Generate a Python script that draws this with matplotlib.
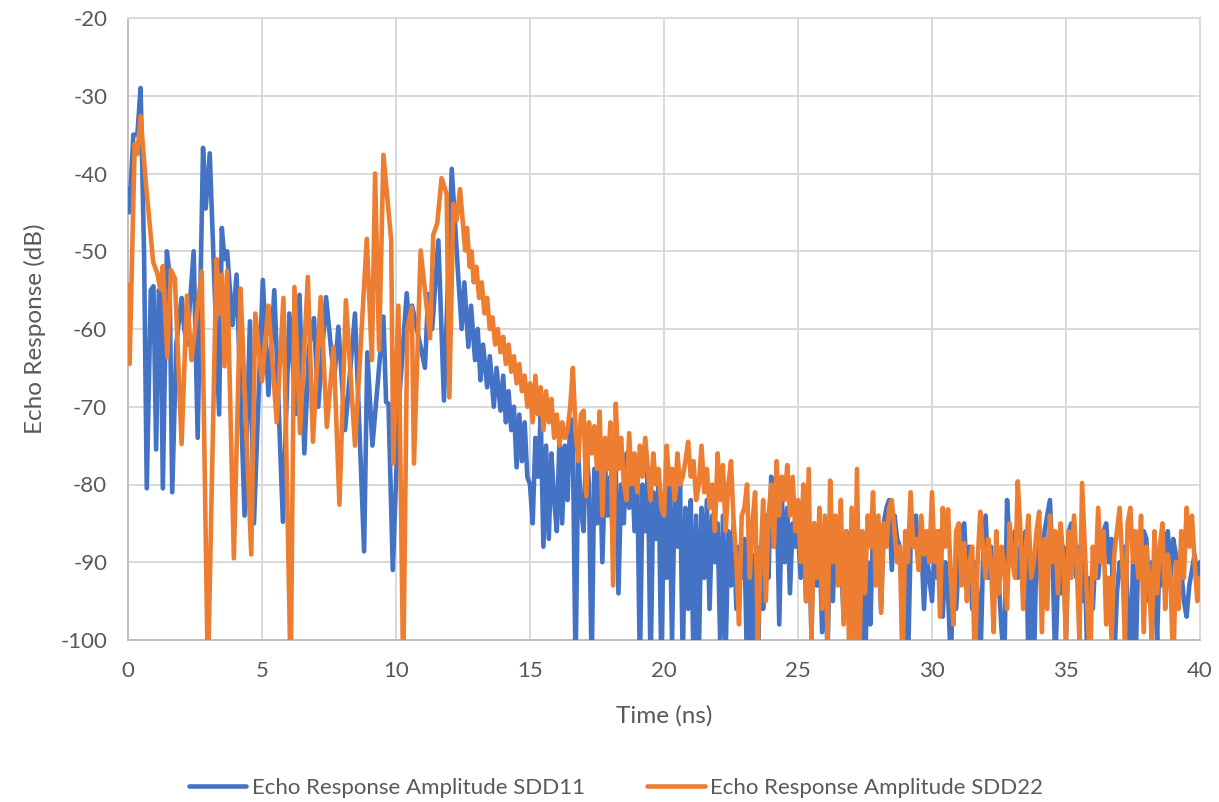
import numpy as np
import matplotlib
matplotlib.use("Agg")
import matplotlib.pyplot as plt

# ---------------- data ----------------
# SDD11, 0-15 ns: key points (time ns, dB)
t_sdd11_head = [0, 0.05, 0.2, 0.35, 0.47, 0.6, 0.7, 0.85, 0.95, 1.05, 1.15, 1.22, 1.3, 1.45, 1.55,
                1.65, 1.8, 2.0, 2.1, 2.2, 2.45, 2.6, 2.8, 2.9, 3.05, 3.4, 3.5, 3.6, 3.7, 3.9, 4.05,
                4.35, 4.55, 4.7, 5.03, 5.24, 5.46, 5.78, 6.02, 6.27, 6.4, 6.58, 6.75, 6.94, 7.1,
                7.39, 7.69, 7.85, 8.1, 8.47, 8.81, 8.93, 9.12, 9.53, 9.63, 9.72, 9.88, 10.1, 10.4,
                10.5, 10.6, 11.08, 11.2, 11.35, 11.58, 11.79, 12.08, 12.3, 12.45, 12.55, 12.7, 12.8,
                12.95, 13.05, 13.15, 13.25, 13.4, 13.5, 13.65, 13.75, 13.9, 14.0, 14.1, 14.2, 14.3,
                14.4, 14.5, 14.6, 14.7, 14.8, 14.9]
v_sdd11_head = [-42, -45, -35, -35, -29, -50.5, -80.5, -55, -54.5, -75.5, -55, -56, -80.5, -50, -53,
                -81, -62, -56, -60, -62, -50, -74, -36.7, -44.5, -37.4, -71, -47, -51, -50, -59.5, -53,
                -84, -59, -85, -53.7, -68.5, -55, -84.8, -58, -70.9, -55.6, -76, -62.5, -58.6, -70,
                -55.9, -66.6, -59.7, -73, -58, -88.6, -63, -75, -58.4, -69.4, -69.6, -91, -70, -55.4,
                -60, -57, -65, -55.5, -60, -48.6, -69.2, -39.4, -52, -60, -54, -62.3, -57,
                -64, -60, -66.6, -62, -67.5, -63.5, -70, -65, -70.5, -66, -72, -68, -73,
                -70, -77.8, -71, -77, -72, -79]

# SDD22, 0-15 ns: key points (time ns, dB)
t_sdd22_head = [0, 0.06, 0.25, 0.35, 0.47, 0.66, 0.94, 1.1, 1.2, 1.3, 1.47, 1.6, 1.75, 2.0, 2.2,
                2.37, 2.75, 2.98, 3.3, 3.42, 3.5, 3.6, 3.7, 3.95, 4.2, 4.6, 4.75, 5.0, 5.24, 5.55,
                5.8, 6.07, 6.21, 6.42, 6.71, 6.9, 7.19, 7.42, 7.67, 7.89, 8.13, 8.47, 8.91, 9.1,
                9.22, 9.37, 9.53, 9.82, 9.9, 10.09, 10.27, 10.42, 10.59, 10.67, 10.92, 11.27, 11.39,
                11.54, 11.7, 11.89, 11.99, 12.14, 12.26, 12.39, 12.5, 12.58, 12.65, 12.75, 12.82,
                12.9, 13.0, 13.1, 13.2, 13.3, 13.4, 13.5, 13.6, 13.7, 13.8, 13.9, 14.0, 14.1, 14.2,
                14.3, 14.4, 14.5, 14.6, 14.7, 14.8, 14.9]
v_sdd22_head = [-54.3, -64.5, -36.2, -37.5, -32.6, -41, -51.4, -52.9, -54.8, -51.9, -63.6, -52.4,
                -53.5, -74.8, -55.7, -64, -52.6, -105, -51, -58, -53, -64.8, -52.5, -89.5, -54.8,
                -89, -58, -66.7, -57, -72, -56, -105, -54.6, -73.4, -53.3, -74.5, -55.9, -72.6,
                -62.3, -82.6, -56.3, -75, -48.4, -64, -40, -62.7, -37.6, -48.6, -77.3, -57, -105,
                -60, -57.2, -77.3, -49.9, -61.2, -47.9, -46.4, -40.6, -42.6, -68.8, -43.9, -46, -42,
                -46.5, -49.9, -47, -52, -50, -54, -52, -56, -54, -58, -56, -60, -58.5, -62, -60, -63,
                -61, -64.5, -62, -65.5, -63.5, -67, -64.5, -68, -66, -70]

# 15-40 ns tails, one value every 0.1 ns
tail_start, tail_step = 15.0, 0.1
v_sdd11_tail = [
    -80, -85, -74, -79, -71, -88, -75, -87, -76, -82,
    -86, -74, -85, -75, -82, -71.5, -75, -104, -76, -83,
    -86, -75, -80, -104, -78, -85, -76, -90, -78, -84,
    -79, -88, -78, -94, -80, -85, -76, -83, -77, -86,
    -78, -104, -80, -86, -78, -104, -81, -87, -79, -104,
    -82, -92, -80, -100, -81, -88, -80, -103, -83, -96,
    -82, -103, -84, -102, -83, -92, -82, -96, -84, -90,
    -85, -101, -84, -102, -86, -93, -85, -96, -88, -92,
    -87, -104, -86, -101, -89, -104, -88, -96, -84, -92,
    -79, -88, -80, -98, -82, -90, -83, -94, -85, -88,
    -86, -92, -84, -95, -86, -99, -85, -93, -87, -99,
    -88, -102, -87, -95, -86, -92, -89, -97, -86, -93,
    -88, -102, -85, -96, -87, -104, -90, -98, -86, -92,
    -87, -96, -85, -83, -82, -91, -84, -87, -88, -95,
    -90, -104, -88, -85, -84, -90, -87, -96, -89, -92,
    -95, -88, -92, -86, -97, -90, -94, -103, -91, -96,
    -90, -86, -85, -92, -88, -96, -90, -94, -104, -90,
    -84, -92, -88, -95, -90, -93, -99, -103, -82, -88,
    -90, -86, -92, -88, -91, -86, -103, -91, -104, -88,
    -90, -94, -86, -84, -82, -90, -103, -92, -94, -88,
    -100, -86, -85, -90, -92, -88, -95, -90, -103, -92,
    -96, -89, -92, -88, -86, -85, -90, -87, -103, -94,
    -90, -92, -88, -95, -104, -90, -103, -88, -92, -86,
    -87, -95, -90, -92, -100, -88, -93, -90, -86, -92,
    -87, -89, -92, -91, -95, -97, -93, -91, -89, -92,
    -90]
v_sdd22_tail = [
    -67, -72, -66, -71, -67.5, -73, -68, -72, -69, -74,
    -71, -75, -72, -74, -73, -70, -65, -73, -77, -71,
    -70.5, -81.5, -72, -76, -72.5, -78, -70.6, -84, -74, -78,
    -72, -93, -69.6, -78, -74, -80, -82, -73.4, -80, -76,
    -81, -75, -79, -74, -78, -82, -76, -80, -78, -83,
    -84, -75, -80, -78, -82, -76, -80, -79, -77, -74.5,
    -79, -77, -82, -80, -75, -81, -78, -83, -80, -86,
    -76, -82, -77.5, -86, -80, -77, -85, -90, -98, -84,
    -83, -80, -92, -85, -81, -100, -90, -82, -95, -84,
    -80, -88, -77, -84, -79, -82, -77.5, -84, -79, -86,
    -82, -90, -80, -95, -78, -100, -85, -92, -83, -96,
    -84, -100, -79.5, -90, -84, -93, -82, -98, -86, -100,
    -83, -104, -78, -100, -86, -94, -84, -88, -81, -93,
    -84, -96.5, -85, -88, -83, -82, -86, -90, -88, -104,
    -86, -90, -81, -88, -87, -91, -84, -89, -86, -90,
    -81, -90, -86, -97, -83, -88, -83.2, -92, -98, -86,
    -85, -93, -87.5, -95, -90, -88, -104, -90, -83.5, -88,
    -92, -87, -90, -99, -86, -94, -88, -91, -96, -85,
    -90, -92, -79.6, -86, -96, -88, -84, -92, -90, -86,
    -83.5, -99, -87, -96, -84, -90, -86, -94, -85, -90,
    -100, -86, -92, -84, -90, -100, -79.8, -88, -96, -104,
    -88, -92, -83, -90, -86, -98, -92, -100, -89, -86,
    -83, -90, -100, -85, -83, -90, -86, -92, -84, -99,
    -88, -92, -100, -86, -94, -88, -85, -96, -89, -92,
    -104, -90, -96, -86, -92, -83, -88, -84, -90, -95,
    -92]

x_ticks = [0, 5, 10, 15, 20, 25, 30, 35, 40]
y_ticks = [-100, -90, -80, -70, -60, -50, -40, -30, -20]
series_names = ["Echo Response Amplitude SDD11", "Echo Response Amplitude SDD22"]
x_label = "Time (ns)"
y_label = "Echo Response (dB)"

# ---------------- build series ----------------
def tail_times(values):
    return list(np.round(tail_start + tail_step * np.arange(len(values)), 3))

t11 = t_sdd11_head + tail_times(v_sdd11_tail)
v11 = v_sdd11_head + v_sdd11_tail
t22 = t_sdd22_head + tail_times(v_sdd22_tail)
v22 = v_sdd22_head + v_sdd22_tail

# ---------------- plot ----------------
plt.rcParams['font.family'] = ['Lato', 'DejaVu Sans']
plt.rcParams['axes.unicode_minus'] = False
text_color = "#595959"
grid_color = "#d9d9d9"
blue = "#4472C4"
orange = "#ED7D31"

W, H = 1219, 802
fig = plt.figure(figsize=(W / 100, H / 100), dpi=100)
ax = fig.add_axes([128 / W, 1 - 640 / H, (1200 - 128) / W, (640 - 18) / H])

ax.plot(t11, v11, color=blue, lw=3.3, solid_joinstyle="round", solid_capstyle="round",
        label=series_names[0], zorder=3)
ax.plot(t22, v22, color=orange, lw=3.3, solid_joinstyle="round", solid_capstyle="round",
        label=series_names[1], zorder=4)

ax.set_xlim(0, 40)
ax.set_ylim(-100, -20)
ax.set_xticks(x_ticks)
ax.set_yticks(y_ticks)
ax.grid(True, color=grid_color, lw=1.4, zorder=0)
ax.set_axisbelow(True)
for s in ax.spines.values():
    s.set_color(grid_color)
    s.set_linewidth(1.4)
ax.spines['left'].set_color("#bfbfbf")
ax.spines['bottom'].set_color("#bfbfbf")
ax.tick_params(length=0, labelsize=16, labelcolor=text_color)
ax.tick_params(axis='x', pad=15)
ax.tick_params(axis='y', pad=15)
ax.set_xlabel(x_label, fontsize=17.5, color=text_color)
ax.set_ylabel(y_label, fontsize=17.5, color=text_color)
ax.xaxis.set_label_coords((664 - 128) / (1200 - 128), (640 - 716) / (640 - 18))
ax.yaxis.set_label_coords((35 - 128) / (1200 - 128), (640 - 329) / (640 - 18))
ax.xaxis.label.set_va("center")
ax.yaxis.label.set_va("center")

handles, labels = ax.get_legend_handles_labels()
fig.legend(handles, labels, loc="center", bbox_to_anchor=(616 / W, 1 - 788 / H), ncol=2,
           frameon=False, fontsize=16, labelcolor=text_color, handlelength=2.6,
           handletextpad=0.25, columnspacing=2.8)

fig.savefig("out.png", dpi=100)
